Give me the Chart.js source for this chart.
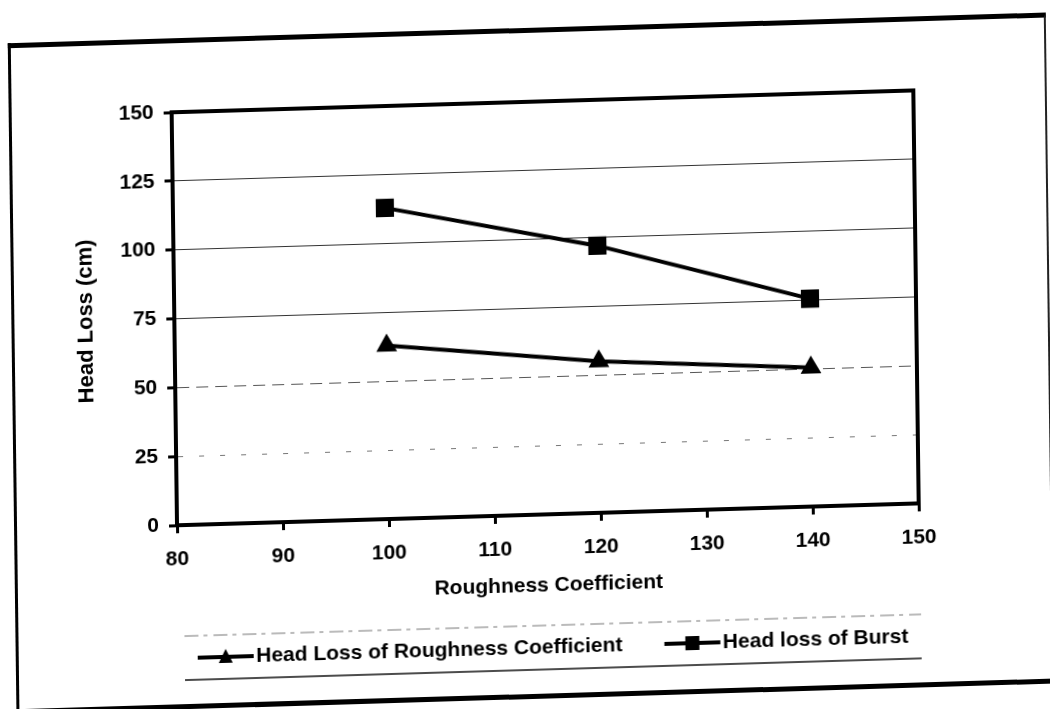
<!DOCTYPE html>
<html>
<head>
<meta charset="utf-8">
<script src="https://cdn.jsdelivr.net/npm/chart.js@4.4.1/dist/chart.umd.min.js"></script>
<style>
  html, body { margin: 0; padding: 0; background: #fff; overflow: hidden; }
  #sheet {
    position: absolute; left: 0; top: 0; width: 1050px; height: 709px;
    transform: matrix(1, -0.0295, 0.013, 1, 0, 0);
    transform-origin: 525px 354.5px;
  }
  #frame {
    position: absolute; left: 12px; top: 28px; width: 1038px; height: 671px;
    box-sizing: border-box;
    border-top: 5px solid #000; border-left: 3px solid #000;
    border-bottom: 5px solid #000; border-right: 2px solid #222;
  }
  #myChart { position: absolute; left: 0; top: 0; }
</style>
</head>
<body>
<div id="sheet">
  <div id="frame"></div>
  <canvas id="myChart" width="1050" height="709"></canvas>
</div>
<script>
// --- Data ---
const roughness = [100, 120, 140];
const lossRoughness = [63, 55, 50.5];
const lossBurst = [113, 97, 75.5];
const xTickValues = [80, 90, 100, 110, 120, 130, 140, 150];
const yTickValues = [0, 25, 50, 75, 100, 125, 150];

const FONT = "'Liberation Sans', Arial, sans-serif";
const LEGEND_SIZE = 21;

const toPoints = (xs, ys) => xs.map((x, i) => ({ x: x, y: ys[i] }));

// small line + marker images for the legend (60px wide, centred on the legend box)
function legendSwatch(style) {
  const c = document.createElement('canvas');
  c.width = 60; c.height = 20;
  const g = c.getContext('2d');
  g.fillStyle = '#000';
  g.fillRect(2, 8, 56, 4);
  g.beginPath();
  if (style === 'rect') {
    g.rect(23, 3, 14, 14);
  } else {
    g.moveTo(30, 2); g.lineTo(37, 16); g.lineTo(23, 16); g.closePath();
  }
  g.fill();
  return c;
}

// plot box (top/right edges) and the rules above and below the legend
const frameLines = {
  id: 'frameLines',
  afterDatasetsDraw(chart) {
    const { ctx, chartArea: a } = chart;
    ctx.save();
    ctx.strokeStyle = '#000';
    ctx.lineWidth = 4;
    ctx.beginPath();
    ctx.moveTo(a.left - 2, a.top);
    ctx.lineTo(a.right, a.top);
    ctx.lineTo(a.right, a.bottom + 2);
    ctx.stroke();
    ctx.restore();
  },
  afterDraw(chart) {
    const { ctx } = chart;
    ctx.save();
    ctx.strokeStyle = '#777';
    ctx.lineWidth = 1;
    ctx.setLineDash([14, 5, 4, 6]);
    ctx.beginPath();
    ctx.moveTo(181, 626); ctx.lineTo(918, 626);
    ctx.stroke();
    ctx.setLineDash([]);
    ctx.strokeStyle = '#111';
    ctx.lineWidth = 1.5;
    ctx.beginPath();
    ctx.moveTo(181, 670); ctx.lineTo(918, 670);
    ctx.stroke();
    ctx.restore();
  }
};

// move the legend row so it starts under the plot and sits between the two rules
const legendShift = {
  id: 'legendShift',
  afterLayout(chart) {
    const lg = chart.legend;
    const p = lg.options.labels.padding;
    const curX = (lg.left + p + lg.right - lg.lineWidths[0]) / 2;
    const curY = lg.top + p + LEGEND_SIZE / 2;
    const dx = 202 - curX, dy = 648 - curY;
    lg.left += dx; lg.right += dx;
    lg.top += dy; lg.bottom += dy;
  }
};

const ctx = document.getElementById('myChart').getContext('2d');

const chart = new Chart(ctx, {
  type: 'line',
  data: {
    datasets: [{
      label: 'Head Loss of Roughness Coefficient',
      data: toPoints(roughness, lossRoughness),
      borderColor: '#000',
      backgroundColor: '#000',
      borderWidth: 4,
      pointStyle: 'triangle',
      pointRadius: 8,
      legendImage: legendSwatch('triangle')
    }, {
      label: 'Head loss of Burst',
      data: toPoints(roughness, lossBurst),
      borderColor: '#000',
      backgroundColor: '#000',
      borderWidth: 4,
      pointStyle: 'rect',
      pointRadius: 10,
      legendImage: legendSwatch('rect')
    }]
  },
  options: {
    responsive: false,
    animation: false,
    devicePixelRatio: 1,
    layout: { padding: { left: 71, top: 102, right: 133, bottom: 18 } },
    plugins: {
      tooltip: { enabled: false },
      legend: {
        position: 'bottom',
        labels: {
          color: '#000',
          font: { family: FONT, size: LEGEND_SIZE, weight: 'bold' },
          usePointStyle: true,
          pointStyleWidth: 40,
          padding: 50,
          generateLabels: (ch) => ch.data.datasets.map((ds, i) => ({
            text: ds.label,
            pointStyle: ds.legendImage,
            datasetIndex: i,
            fillStyle: '#000',
            strokeStyle: '#000',
            lineWidth: 0,
            fontColor: '#000'
          }))
        }
      }
    },
    scales: {
      x: {
        type: 'linear',
        min: 80, max: 150,
        afterBuildTicks: (s) => { s.ticks = xTickValues.map(v => ({ value: v })); },
        afterFit: (s) => { s.height = 95; },
        border: { color: '#000', width: 4 },
        grid: { drawOnChartArea: false, drawTicks: true, tickLength: 8, tickWidth: 3, tickColor: '#000' },
        ticks: { color: '#000', padding: 14, font: { family: FONT, size: 21, weight: 'bold' }, maxRotation: 0 },
        title: {
          display: true, text: 'Roughness Coefficient', color: '#000',
          font: { family: FONT, size: 21, weight: 'bold' },
          padding: { top: 0, bottom: 11 }
        }
      },
      y: {
        min: 0, max: 150,
        afterBuildTicks: (s) => { s.ticks = yTickValues.map(v => ({ value: v })); },
        afterFit: (s) => { s.width = 104; },
        border: {
          color: '#000', width: 4,
          // lower grid lines are broken up, the upper ones solid
          dash: (c) => {
            const v = c.tick && c.tick.value;
            if (v === 25) return [5, 16];
            if (v === 50) return [12, 7];
            return [];
          }
        },
        grid: {
          drawTicks: true, tickLength: 8, tickWidth: 3,
          tickColor: '#000',
          lineWidth: 1,
          color: (c) => {
            const v = c.tick && c.tick.value;
            if (v === 25) return '#777';
            if (v === 50) return '#555';
            return '#333';
          }
        },
        ticks: { color: '#000', padding: 10, font: { family: FONT, size: 21, weight: 'bold' } },
        title: {
          display: true, text: 'Head Loss (cm)', color: '#000',
          font: { family: FONT, size: 22, weight: 'bold' },
          padding: { top: 3, bottom: 0 }
        }
      }
    }
  },
  plugins: [frameLines, legendShift]
});
</script>
</body>
</html>
